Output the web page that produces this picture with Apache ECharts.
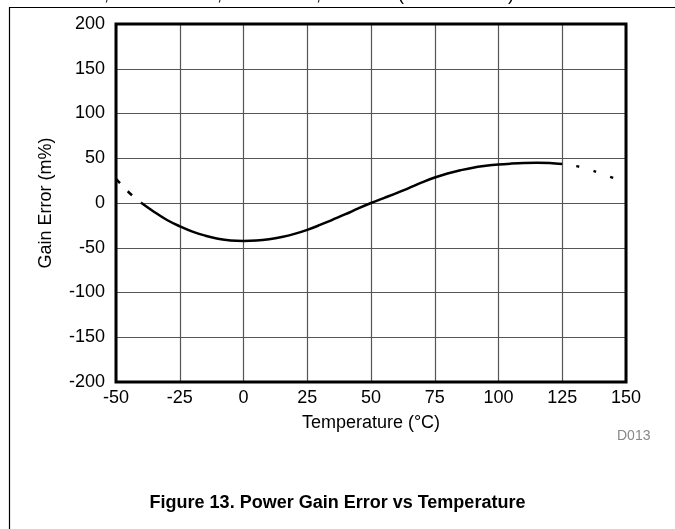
<!DOCTYPE html>
<html>
<head>
<meta charset="utf-8">
<script src="https://cdn.jsdelivr.net/npm/echarts@6/dist/echarts.min.js"></script>
<style>
html,body{margin:0;padding:0;background:#fff;}
#c{width:675px;height:529px;}
</style>
</head>
<body>
<div id="c"></div>
<script>
// Data
var tempSolid = [-40,-35,-30,-25,-20,-15,-10,-5,0,5,10,15,20,25,30,35,40,45,50,55,60,65,70,75,80,85,90,95,100,105,110,115,120,125];
var gainSolid = [0,-10,-19,-26,-32,-36.5,-40,-42,-42.5,-42,-40.5,-38,-34.5,-30,-24.5,-18.5,-12.5,-6,0,5.5,11,17,23,28.5,33,36.5,39.5,41.5,43,44,44.7,45,44.8,43.5];
var tempDashLeft = [-50,-45,-40];
var gainDashLeft = [27,12,0];
var tempDashRight = [125,130,135,140,145,150];
var gainDashRight = [43.5,41.5,38,33,28,24];
var xTicks = [-50,-25,0,25,50,75,100,125,150];
var yTicks = [-200,-150,-100,-50,0,50,100,150,200];

function pairs(xs, ys){ return xs.map(function(x,i){return [x, ys[i]];}); }

var FONT = 'Liberation Sans, Arial, sans-serif';
var chart = echarts.init(document.getElementById('c'), null, {renderer:'canvas'});
chart.setOption({
  animation:false,
  backgroundColor:'#fff',
  grid:{left:116, top:24, right:49, bottom:147, show:true, borderColor:'#000', borderWidth:3, z:3},
  xAxis:{
    type:'value', min:xTicks[0], max:xTicks[xTicks.length-1], interval:25,
    name:'Temperature (\u00B0C)', nameLocation:'middle', nameGap:32,
    nameTextStyle:{fontFamily:FONT, fontSize:18, color:'#000'},
    axisLine:{show:false}, axisTick:{show:false},
    axisLabel:{fontFamily:FONT, fontSize:18, color:'#000', margin:7},
    splitLine:{show:true, lineStyle:{color:'#555', width:1.2}}
  },
  yAxis:{
    type:'value', min:yTicks[0], max:yTicks[yTicks.length-1], interval:50,
    name:'Gain Error (m%)', nameLocation:'middle', nameGap:61,
    nameTextStyle:{fontFamily:FONT, fontSize:18, color:'#000'},
    axisLine:{show:false}, axisTick:{show:false},
    axisLabel:{fontFamily:FONT, fontSize:18, color:'#000', margin:11},
    splitLine:{show:true, lineStyle:{color:'#555', width:1.2}}
  },
  series:[
    {type:'line', data:pairs(tempSolid, gainSolid), smooth:0.4, showSymbol:false,
     lineStyle:{color:'#000', width:2.5}, z:5},
    {type:'line', data:pairs(tempDashLeft, gainDashLeft), smooth:0.4, showSymbol:false,
     lineStyle:{color:'#000', width:2.5, type:[6,11]}, z:5},
    {type:'line', data:pairs(tempDashRight, gainDashRight), smooth:0.4, showSymbol:false,
     lineStyle:{color:'#000', width:2.5, type:[3,15], dashOffset:-14}, z:5}
  ],
  graphic:[
    {type:'line', shape:{x1:9, y1:7.5, x2:675, y2:7.5}, style:{stroke:'#000', lineWidth:1.2}},
    {type:'line', shape:{x1:9.5, y1:7, x2:9.5, y2:529}, style:{stroke:'#000', lineWidth:1.2}},
    {type:'text', left:48, top:-10, style:{text:'A', font:'13px '+FONT, fill:'#000'}},
    {type:'text', left:104, top:-14, style:{text:',', font:'18px '+FONT, fill:'#000'}},
    {type:'text', left:132, top:-10, style:{text:'VS', font:'13px '+FONT, fill:'#000'}},
    {type:'text', left:217, top:-14, style:{text:',', font:'18px '+FONT, fill:'#000'}},
    {type:'text', left:240, top:-10, style:{text:'INT', font:'13px '+FONT, fill:'#000'}},
    {type:'text', left:316, top:-14, style:{text:',', font:'18px '+FONT, fill:'#000'}},
    {type:'text', left:345, top:-10, style:{text:'SENSE', font:'13px '+FONT, fill:'#000'}},
    {type:'text', left:398, top:-14, style:{text:'(', font:'18px '+FONT, fill:'#000'}},
    {type:'text', left:424, top:-10, style:{text:'INT', font:'13px '+FONT, fill:'#000'}},
    {type:'text', left:484, top:-10, style:{text:'IN\u2013', font:'13px '+FONT, fill:'#000'}},
    {type:'text', left:508, top:-14, style:{text:')', font:'18px '+FONT, fill:'#000'}},
    {type:'text', left:617, top:429, style:{text:'D013', font:'14px '+FONT, fill:'#888'}},
    {type:'text', left:'center', top:494, style:{text:'Figure 13. Power Gain Error vs Temperature', font:'bold 18px '+FONT, fill:'#000'}}
  ]
});
</script>
</body>
</html>
